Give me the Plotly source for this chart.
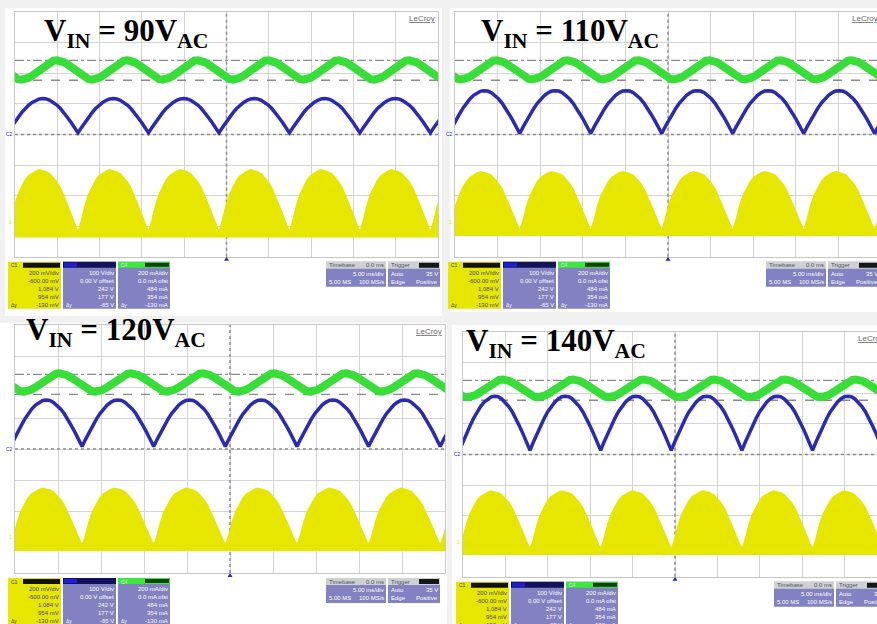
import plotly.graph_objects as go

W, H = 877, 624

# ---------------- values ----------------
VIN_LABELS = ["90", "110", "120", "140"]
PERIOD_MS = 8.33                       # rectified line period
FIRST_CUSP_MS = [7.45, 7.60, 7.80, 7.90]   # first blue cusp / yellow gap
GREEN_PEAK_MS = [4.96, 4.90, 5.20, 4.70]   # first green ripple peak
BLUE_PEAK_DIV = [1.17, 1.43, 1.58, 1.90]
BLUE_CUSP_DIV = [0.05, 0.03, 0.08, 0.13]
GREEN_HIGH_DIV = [2.42, 2.42, 2.44, 2.45]
GREEN_LOW_DIV = [1.79, 1.80, 1.85, 1.87]
YELLOW_PEAK_DIV = [-1.16, -1.22, -1.27, -1.20]
YELLOW_BASE_DIV = [-3.28, -3.23, -3.20, -3.20]
CURSOR_HIGH_DIV = [2.42, 2.42, 2.41, 2.42]
CURSOR_LOW_DIV = [1.77, 1.77, 1.76, 1.77]

SHAPE_FRAC = [0.00, 0.05, 0.10, 0.15, 0.20, 0.25, 0.30, 0.35, 0.40, 0.45, 0.50,
              0.55, 0.60, 0.65, 0.70, 0.75, 0.80, 0.85, 0.90, 0.95, 1.00]
BLUE_SHAPE = [0.00, 0.16, 0.31, 0.45, 0.59, 0.71, 0.81, 0.89, 0.95, 0.99, 1.00,
              0.99, 0.95, 0.89, 0.81, 0.71, 0.59, 0.45, 0.31, 0.16, 0.00]
GREEN_SHAPE = [1.00, 0.98, 0.90, 0.79, 0.65, 0.50, 0.35, 0.21, 0.10, 0.02, 0.00,
               0.02, 0.10, 0.21, 0.35, 0.50, 0.65, 0.79, 0.90, 0.98, 1.00]
YELLOW_SHAPE = [0.04, 0.22, 0.45, 0.62, 0.74, 0.84, 0.91, 0.95, 0.98, 1.00, 0.99,
                0.97, 0.94, 0.88, 0.81, 0.72, 0.60, 0.46, 0.32, 0.17, 0.04]

C1_READOUT = ["200 mV/div", "-600.00 mV", "1.084 V", "954 mV", "-130 mV"]
C2_READOUT = ["100 V/div", "0.00 V offset", "242 V", "177 V", "-65 V"]
C4_READOUT = ["200 mA/div", "0.0 mA ofst", "484 mA", "354 mA", "-130 mA"]
TIMEBASE_HEAD = ["Timebase", "0.0 ms"]
TIMEBASE_ROWS = [["", "5.00 ms/div"], ["5.00 MS", "100 MS/s"]]
TRIGGER_HEAD = ["Trigger", "C2 DC"]
TRIGGER_ROWS = [["Auto", "35 V"], ["Edge", "Positive"]]

# ---------------- layout geometry (pixels) ----------------
PANELS = [
    dict(gx=15, gy=12, dx=42.3, dy=30.6, white=(5, 8, 442, 316), label=(45, 43)),
    dict(gx=455, gy=12, dx=42.6, dy=30.6, white=(450, 8, 877, 312), label=(482, 43)),
    dict(gx=15, gy=325, dx=43.0, dy=31.0, white=(0, 323, 447, 624), label=(27, 342)),
    dict(gx=463, gy=332, dx=42.4, dy=30.6, white=(452, 325, 877, 624), label=(467, 353)),
]

YELLOW = "#e6e600"
GREEN = "#38de38"
BLUE = "#2a2ab4"
LAV = "#8282c2"
GRID = "#d4d4d4"

fig = go.Figure()
shapes, annotations = [], []


def X(p):
    return p / W


def Y(p):
    return 1 - p / H


def rect(x0, y0, x1, y1, color, layer="above"):
    shapes.append(dict(type="rect", xref="paper", yref="paper", x0=X(x0), x1=X(x1),
                       y0=Y(y1), y1=Y(y0), fillcolor=color, line=dict(width=0), layer=layer))


def text(s, x, y, size=6, color="white", xanchor="left", family="Liberation Sans"):
    annotations.append(dict(text=s, x=X(x), y=Y(y), xref="paper", yref="paper",
                            xanchor=xanchor, yanchor="middle", showarrow=False,
                            font=dict(size=size, color=color, family=family), borderpad=0))


def periodic(start, lo, hi, shape, t_end=52.0):
    xs, ys = [], []
    c = start - PERIOD_MS
    while c < t_end:
        for k, (f, s) in enumerate(zip(SHAPE_FRAC, shape)):
            if k == 0 and xs:
                continue
            xs.append(c + f * PERIOD_MS)
            ys.append(lo + (hi - lo) * s)
        c += PERIOD_MS
    return xs, ys


layout_axes = {}
for i, p in enumerate(PANELS):
    n = i + 1
    xa, ya = f"x{n}", f"y{n}"
    gx, gy, dx, dy = p["gx"], p["gy"], p["dx"], p["dy"]
    right_full = gx + 10 * dx
    right = min(right_full, W)
    xr = (right - gx) / dx * 5.0
    cut = right_full > W

    # white screenshot background
    wx0, wy0, wx1, wy1 = p["white"]
    rect(wx0, wy0, wx1, wy1, "white", layer="below")

    layout_axes[f"xaxis{n}"] = dict(domain=[X(gx), X(right)], range=[0, xr], anchor=ya,
                                    dtick=5, tick0=0, showgrid=True, gridcolor=GRID, gridwidth=1,
                                    showticklabels=False, ticks="", zeroline=False,
                                    showline=True, linecolor="#c6c6c6", mirror=True, fixedrange=True)
    layout_axes[f"yaxis{n}"] = dict(domain=[Y(gy + 8 * dy), Y(gy)], range=[-4, 4], anchor=xa,
                                    dtick=1, tick0=0, showgrid=True, gridcolor=GRID, gridwidth=1,
                                    showticklabels=False, ticks="", zeroline=False,
                                    showline=True, linecolor="#c6c6c6", mirror=not cut, fixedrange=True)

    # centre graticule lines and cursors
    for (x0, y0, x1, y1, dash, col, w) in [
        (25, -4, 25, 4, "dot", "#8c8c9c", 1.5),
        (0, 0, 50, 0, "dot", "#8c8c8c", 1.5),
        (0, CURSOR_HIGH_DIV[i], 50, CURSOR_HIGH_DIV[i], "dashdot", "#8a8a8a", 1.3),
        (0, CURSOR_LOW_DIV[i], 50, CURSOR_LOW_DIV[i], "dash", "#8a8a8a", 1.3),
    ]:
        shapes.append(dict(type="line", xref=xa, yref=ya, x0=x0, y0=y0, x1=x1, y1=y1,
                           line=dict(color=col, width=w, dash=dash), layer="between"))

    # yellow current envelope
    ex, ey = periodic(FIRST_CUSP_MS[i], YELLOW_BASE_DIV[i], YELLOW_PEAK_DIV[i], YELLOW_SHAPE)
    px = ex + [ex[-1], ex[0]]
    py = ey + [YELLOW_BASE_DIV[i], YELLOW_BASE_DIV[i]]
    fig.add_trace(go.Scatter(x=px, y=py, xaxis=xa, yaxis=ya, mode="lines", fill="toself",
                             fillcolor=YELLOW, line=dict(color=YELLOW, width=1.5),
                             hoverinfo="skip", showlegend=False))
    fig.add_trace(go.Scatter(x=[-1, 51], y=[YELLOW_BASE_DIV[i] - 0.04] * 2, xaxis=xa, yaxis=ya,
                             mode="lines", line=dict(color=YELLOW, width=3),
                             hoverinfo="skip", showlegend=False))
    # blue rectified voltage
    bx, by = periodic(FIRST_CUSP_MS[i], BLUE_CUSP_DIV[i], BLUE_PEAK_DIV[i], BLUE_SHAPE)
    fig.add_trace(go.Scatter(x=bx, y=by, xaxis=xa, yaxis=ya, mode="lines",
                             line=dict(color=BLUE, width=3.5), hoverinfo="skip", showlegend=False))
    # green ripple
    gxs, gys = periodic(GREEN_PEAK_MS[i], GREEN_LOW_DIV[i], GREEN_HIGH_DIV[i], GREEN_SHAPE)
    fig.add_trace(go.Scatter(x=gxs, y=gys, xaxis=xa, yaxis=ya, mode="lines",
                             line=dict(color=GREEN, width=8), hoverinfo="skip", showlegend=False))

    # channel markers at left edge & trigger marker
    text("C2", gx - 1, gy + 4 * dy, size=5, color=BLUE, xanchor="right")
    text("1", gx - 1, gy + (4 + 2.85) * dy, size=6, color=YELLOW, xanchor="right")
    gb = gy + 8 * dy
    shapes.append(dict(type="path", xref="paper", yref="paper",
                       path=f"M {X(gx + 5 * dx - 2.5)} {Y(gb + 4)} L {X(gx + 5 * dx + 2.5)} {Y(gb + 4)} L {X(gx + 5 * dx)} {Y(gb)} Z",
                       fillcolor="#2a2ad0", line=dict(width=0), layer="above"))

    # LeCroy logo text
    text("<u>LeCroy</u>", right_full - 2, gy + 6, size=8, color="#6a6a6a", xanchor="right")

    # title label
    lx, lbase = p["label"]
    annotations.append(dict(text=f"<b>V<sub>IN</sub> = {VIN_LABELS[i]}V<sub>AC</sub></b>",
                            x=X(lx - 2), y=Y(lbase + 11), xref="paper", yref="paper",
                            xanchor="left", yanchor="bottom", showarrow=False, borderpad=0,
                            font=dict(size=31, color="black", family="Liberation Serif, Times New Roman, serif")))

    # info boxes
    by0 = gb + 5
    # C1 yellow box
    x0 = gx - 7
    rect(x0, by0, x0 + 53, by0 + 47, YELLOW)
    rect(x0 + 15, by0 + 1, x0 + 52, by0 + 6, "#111111")
    text("C1", x0 + 2, by0 + 3.5, size=5, color="#333")
    for r, s in enumerate(C1_READOUT):
        text(s, x0 + 52, by0 + 11 + 8 * r, size=6, color="#444", xanchor="right")
    text("Δy", x0 + 2, by0 + 43, size=5, color="#444")
    # C2 box
    x0 = gx + 48
    rect(x0, by0, x0 + 53, by0 + 47, LAV)
    rect(x0, by0, x0 + 53, by0 + 6, "#12125a")
    rect(x0 + 1, by0 + 1, x0 + 14, by0 + 5, "#1e1ee0")
    for r, s in enumerate(C2_READOUT):
        text(s, x0 + 52, by0 + 11 + 8 * r, size=6, color="white", xanchor="right")
    text("Δy", x0 + 2, by0 + 43, size=5, color="white")
    # C4 box
    x0 = gx + 103
    rect(x0, by0, x0 + 52, by0 + 47, LAV)
    rect(x0, by0, x0 + 52, by0 + 6, "#3ee63e")
    rect(x0 + 27, by0 + 1, x0 + 51, by0 + 5, "#163f16")
    text("C4", x0 + 2, by0 + 3.5, size=5, color="#eee")
    for r, s in enumerate(C4_READOUT):
        text(s, x0 + 51, by0 + 11 + 8 * r, size=6, color="white", xanchor="right")
    text("Δy", x0 + 2, by0 + 43, size=5, color="white")
    # Timebase box
    x0 = gx + 311
    rect(x0, by0, x0 + 60, by0 + 25, LAV)
    rect(x0, by0, x0 + 60, by0 + 7, "#cfcfd6")
    text(TIMEBASE_HEAD[0], x0 + 2, by0 + 3.5, size=6, color="#555")
    text(TIMEBASE_HEAD[1], x0 + 59, by0 + 3.5, size=6, color="#555", xanchor="right")
    for r, (a, b) in enumerate(TIMEBASE_ROWS):
        if a:
            text(a, x0 + 2, by0 + 12 + 8 * r, size=6, color="white")
        text(b, x0 + 59, by0 + 12 + 8 * r, size=6, color="white", xanchor="right")
    # Trigger box
    x0 = gx + 373
    rect(x0, by0, x0 + 52, by0 + 25, LAV)
    rect(x0, by0, x0 + 52, by0 + 7, "#cfcfd6")
    rect(x0 + 31, by0 + 1, x0 + 51, by0 + 6, "#161616")
    text(TRIGGER_HEAD[0], x0 + 2, by0 + 3.5, size=6, color="#555")
    for r, (a, b) in enumerate(TRIGGER_ROWS):
        text(a, x0 + 2, by0 + 12 + 8 * r, size=6, color="white")
        text(b, x0 + 51, by0 + 12 + 8 * r, size=6, color="white", xanchor="right")

fig.update_layout(width=W, height=H, margin=dict(l=0, r=0, t=0, b=0), autosize=False,
                  paper_bgcolor="#f1f1f1", plot_bgcolor="rgba(0,0,0,0)",
                  shapes=shapes, annotations=annotations, showlegend=False, **layout_axes)
fig.write_html("out.html", config={"displayModeBar": False},
               post_script="document.body.style.margin='0';document.body.style.overflow='hidden';")
